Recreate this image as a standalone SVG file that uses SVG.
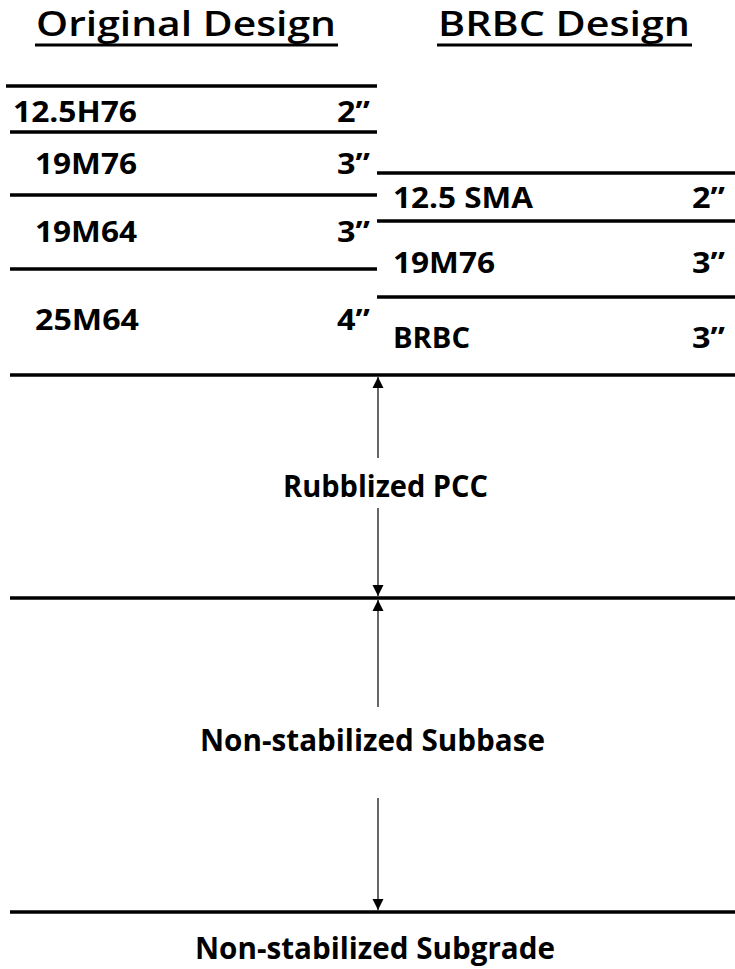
<svg xmlns="http://www.w3.org/2000/svg" width="735" height="969" viewBox="0 0 735 969">
<style>
.t{font-family:"Open Sans","Liberation Sans",sans-serif;font-weight:bold;fill:#000;}
.title{font-size:34px;font-weight:600;}
.lbl{font-size:28px;}
.big{font-size:30px;}
.ln{stroke:#000;stroke-width:3.5;fill:none;}
.ar{stroke:#000;stroke-width:1.2;fill:none;}
</style>
<defs>
<marker id="ah" markerUnits="userSpaceOnUse" markerWidth="12" markerHeight="12" refX="11" refY="6" orient="auto-start-reverse" viewBox="0 0 12 12">
<path d="M0,0.5 L11,6 L0,11.5 Z" fill="#000"/>
</marker>
</defs>
<rect width="735" height="969" fill="#fff"/>

<g id="title-original">
<text class="t title" x="36" y="36" textLength="300" lengthAdjust="spacingAndGlyphs">Original Design</text>
<line class="ln" x1="35" y1="45" x2="338" y2="45" style="stroke-width:3"/>
</g>
<g id="title-brbc">
<text class="t title" x="438" y="36" textLength="252" lengthAdjust="spacingAndGlyphs">BRBC Design</text>
<line class="ln" x1="437" y1="45" x2="692" y2="45" style="stroke-width:3"/>
</g>

<g id="orig-12-5H76">
<line class="ln" x1="6" y1="86" x2="377" y2="86"/>
<text class="t lbl" x="13" y="122" textLength="124" lengthAdjust="spacingAndGlyphs">12.5H76</text>
<text class="t lbl" x="337" y="122" textLength="33" lengthAdjust="spacingAndGlyphs">2”</text>
</g>
<g id="orig-19M76">
<line class="ln" x1="10" y1="132" x2="377" y2="132"/>
<text class="t lbl" x="35" y="174" textLength="102" lengthAdjust="spacingAndGlyphs">19M76</text>
<text class="t lbl" x="337" y="174" textLength="33" lengthAdjust="spacingAndGlyphs">3”</text>
</g>
<g id="orig-19M64">
<line class="ln" x1="10" y1="195" x2="377" y2="195"/>
<text class="t lbl" x="35" y="242" textLength="102" lengthAdjust="spacingAndGlyphs">19M64</text>
<text class="t lbl" x="337" y="242" textLength="33" lengthAdjust="spacingAndGlyphs">3”</text>
</g>
<g id="orig-25M64">
<line class="ln" x1="10" y1="269" x2="377" y2="269"/>
<text class="t lbl" x="35" y="330" textLength="104" lengthAdjust="spacingAndGlyphs">25M64</text>
<text class="t lbl" x="337" y="330" textLength="33" lengthAdjust="spacingAndGlyphs">4”</text>
</g>

<g id="brbc-12-5SMA">
<line class="ln" x1="377" y1="173" x2="735" y2="173"/>
<text class="t lbl" x="393" y="208" textLength="140" lengthAdjust="spacingAndGlyphs">12.5 SMA</text>
<text class="t lbl" x="692" y="208" textLength="33" lengthAdjust="spacingAndGlyphs">2”</text>
</g>
<g id="brbc-19M76">
<line class="ln" x1="377" y1="221" x2="735" y2="221"/>
<text class="t lbl" x="393" y="273" textLength="102" lengthAdjust="spacingAndGlyphs">19M76</text>
<text class="t lbl" x="692" y="273" textLength="33" lengthAdjust="spacingAndGlyphs">3”</text>
</g>
<g id="brbc-BRBC">
<line class="ln" x1="377" y1="297" x2="735" y2="297"/>
<text class="t lbl" x="393" y="348" textLength="77" lengthAdjust="spacingAndGlyphs">BRBC</text>
<text class="t lbl" x="692" y="348" textLength="33" lengthAdjust="spacingAndGlyphs">3”</text>
</g>

<g id="rubblized-pcc">
<line class="ln" x1="10" y1="375" x2="735" y2="375"/>
<text class="t big" x="283" y="497" textLength="205" lengthAdjust="spacingAndGlyphs">Rubblized PCC</text>
</g>
<g id="subbase">
<line class="ln" x1="10" y1="598" x2="735" y2="598"/>
<text class="t big" x="200" y="751" textLength="345" lengthAdjust="spacingAndGlyphs">Non-stabilized Subbase</text>
</g>
<g id="subgrade">
<line class="ln" x1="10" y1="912" x2="735" y2="912"/>
<text class="t big" x="195" y="959" textLength="360" lengthAdjust="spacingAndGlyphs">Non-stabilized Subgrade</text>
</g>

<g id="connectors">
<line class="ar" x1="378" y1="458" x2="378" y2="377" marker-end="url(#ah)"/>
<line class="ar" x1="378" y1="508" x2="378" y2="596" marker-end="url(#ah)"/>
<line class="ar" x1="378" y1="707" x2="378" y2="600" marker-end="url(#ah)"/>
<line class="ar" x1="378" y1="798" x2="378" y2="910" marker-end="url(#ah)"/>
</g>
</svg>
